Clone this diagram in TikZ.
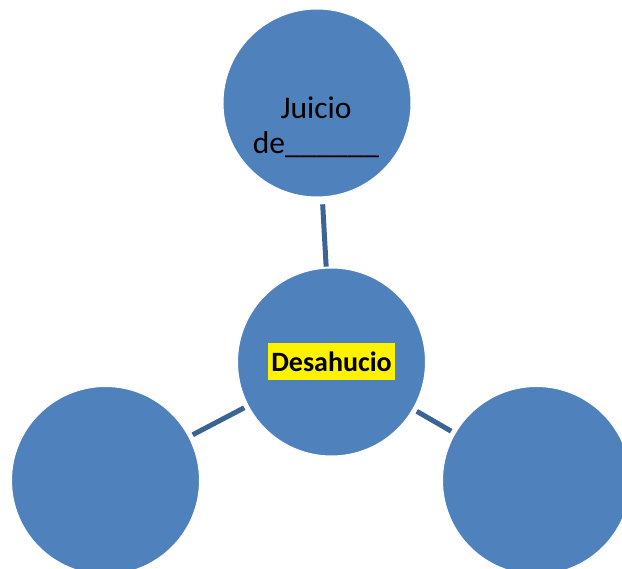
\documentclass[tikz,border=0pt]{standalone}
\usepackage{fontspec}
\setmainfont{Carlito}
\definecolor{circblue}{HTML}{4F81BD}
\definecolor{linkblue}{HTML}{3B6495}
\tikzset{
  bubble/.style={circle,fill=circblue,draw=white,line width=1pt,minimum size=188pt,inner sep=0pt},
  link/.style={draw=linkblue,line width=5pt,shorten <=4pt,shorten >=4pt}
}
\begin{document}
\begin{tikzpicture}[x=1pt,y=-1pt]
        \useasboundingbox (0,0) rectangle (622,569);
        \clip (0,0) rectangle (622,569);
        \node[bubble] (juicio) at (317,103) {};
        \node[bubble] (desahucio) at (331.5,362) {};
        \node[bubble] (izq) at (105.5,480.5) {};
        \node[bubble] (der) at (536.5,480.5) {};
        \node[align=center,font=\fontsize{31.5}{35}\selectfont] (juiciotxt) at (316,127) {Juicio\\de\_\_\_\_\_\_};
        \node[fill=yellow,inner xsep=3pt,inner ysep=0pt,minimum height=37pt,font=\bfseries\fontsize{28}{33}\selectfont] (desatxt) at (desahucio) {Desahucio};
        \draw[link,shorten <=7pt,shorten >=1pt] (juicio) -- (desahucio);
        \draw[link] (desahucio) -- (izq);
        \draw[link] (desahucio) -- (der);
        \end{tikzpicture}
\end{document}
